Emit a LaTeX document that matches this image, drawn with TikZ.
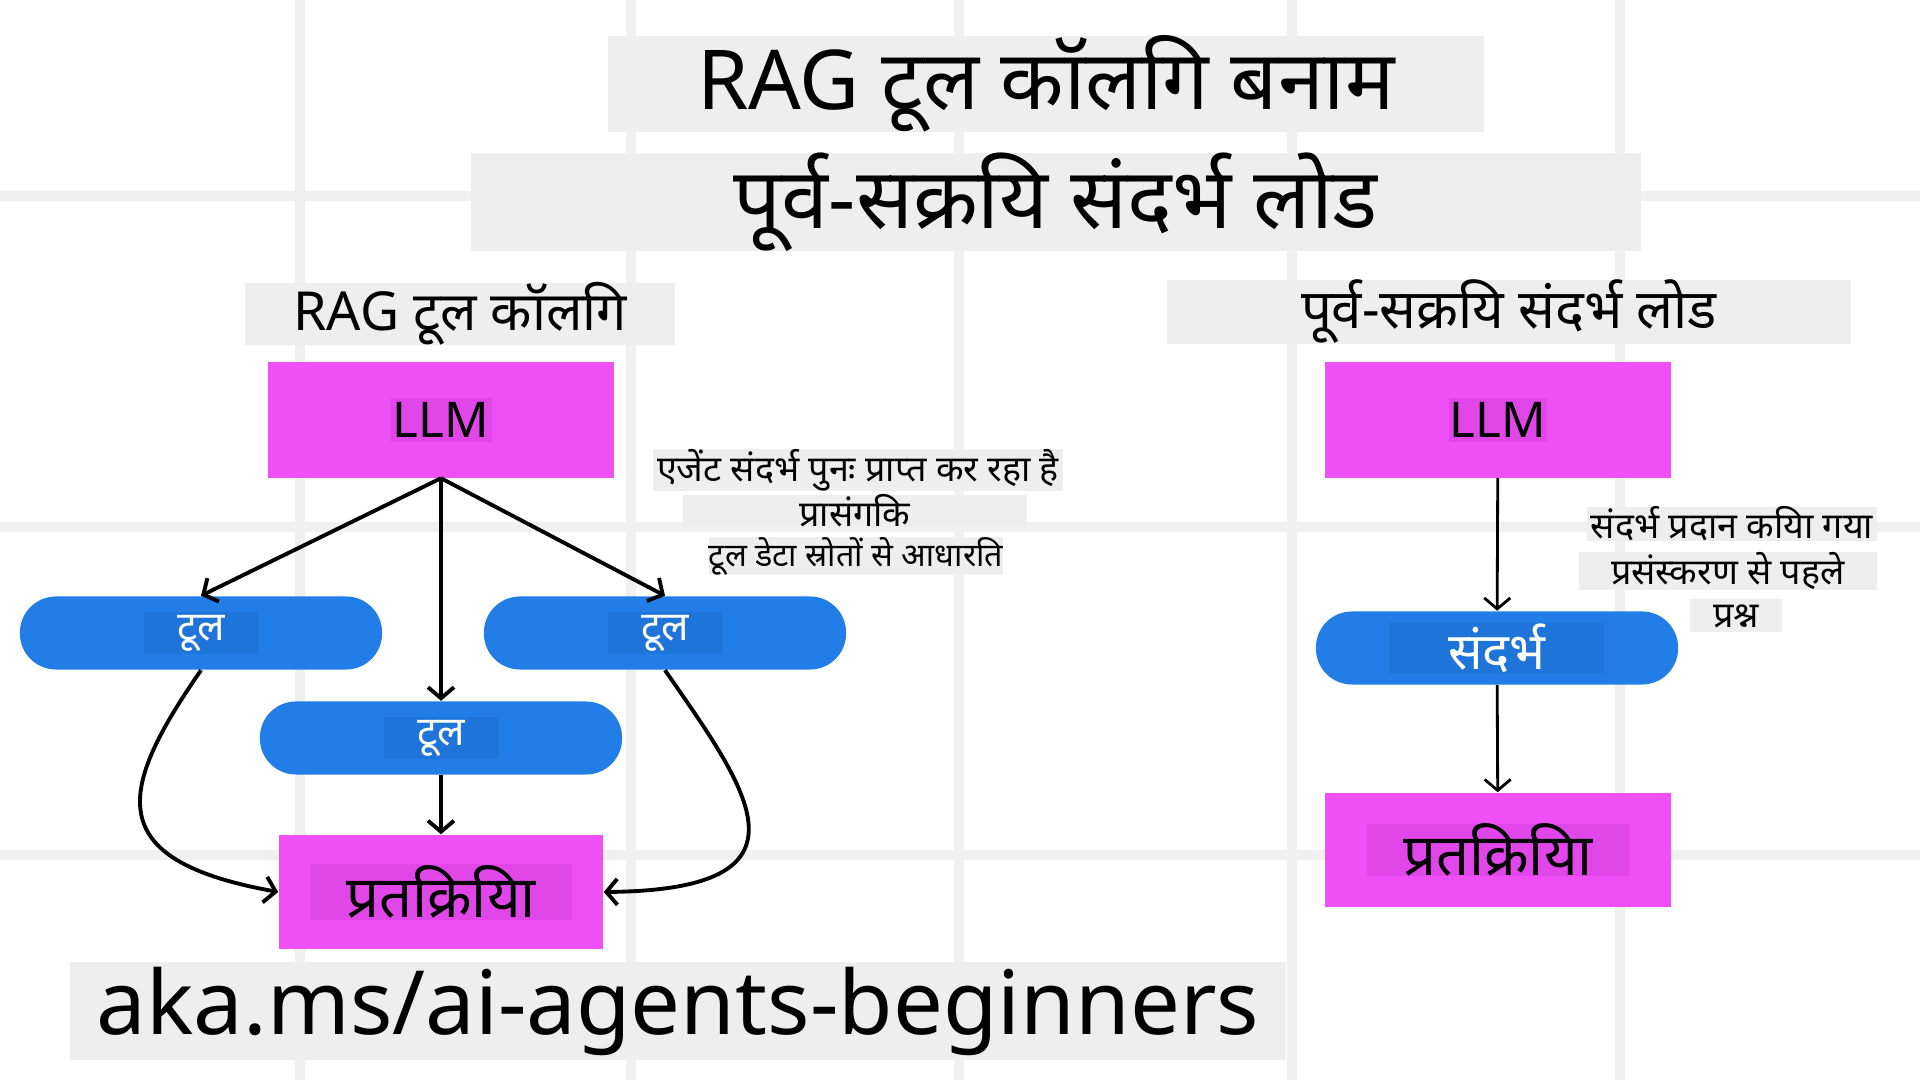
\documentclass[tikz,border=0pt]{standalone}
\usepackage{fontspec}
\setmainfont[Script=Devanagari]{Noto Sans}
\usetikzlibrary{arrows.meta}

\definecolor{gridgray}{HTML}{F0F0F0}
\definecolor{labelgray}{HTML}{EEEEEE}
\definecolor{llmpink}{HTML}{EF50F5}
\definecolor{llmpinkdark}{HTML}{E046E8}
\definecolor{toolblue}{HTML}{237DE6}
\definecolor{toolbluedark}{HTML}{1F74DA}

\tikzset{
  gridline/.style={gridgray, line width=0.1cm},
  label/.style={fill=labelgray, inner sep=0},
  pinkbox/.style={fill=llmpink, inner sep=0, minimum height=1.15cm},
  pinktag/.style={fill=llmpinkdark, inner sep=0},
  pill/.style={fill=toolblue, rounded corners=0.36cm, inner sep=0,
    minimum width=3.62cm, minimum height=0.73cm},
  pilltag/.style={fill=toolbluedark, text=white, inner sep=0},
  flow/.style={-{Straight Barb[length=1.1mm, width=2.6mm]}, line width=1.1pt},
}

\begin{document}
\begin{tikzpicture}[x=0.01cm, y=-0.01cm]
  \fill[white] (0,0) rectangle (1920,1080);
  \useasboundingbox (0,0) rectangle (1920,1080);

  % background grid
  \foreach \x in {300, 631, 959, 1292, 1620}{
    \draw[gridline] (\x,0) -- (\x,1080);
  }
  \foreach \y in {196, 527, 855}{
    \draw[gridline] (0,\y) -- (1920,\y);
  }

  % titles
  \node[label, minimum width=8.75cm, minimum height=0.95cm, font=\fontsize{23.5}{28}\selectfont]
    (title) at (1046,84) {RAG टूल कॉलगि बनाम};
  \node[label, minimum width=11.7cm, minimum height=0.93cm, font=\fontsize{24}{28}\selectfont]
    (subtitle) at (1056,202) {पूर्व-सक्रयि संदर्भ लोड};
  \node[label, minimum width=4.3cm, minimum height=0.6cm, font=\fontsize{15.3}{18}\selectfont]
    (headA) at (460,314) {RAG टूल कॉलगि};
  \node[label, minimum width=6.84cm, minimum height=0.61cm, font=\fontsize{15.5}{18}\selectfont]
    (headB) at (1509,312) {पूर्व-सक्रयि संदर्भ लोड};

  % RAG tool calling
  \node[pinkbox, minimum width=3.45cm] (llmA) at (441,420) {};
  \node[pinktag, minimum width=1.01cm, minimum height=0.44cm, font=\fontsize{14}{17}\selectfont]
    (llmAtxt) at (llmA) {LLM};
  \node[pill] (toolL) at (201,633) {};
  \node[pill] (toolR) at (665,633) {};
  \node[pill] (toolM) at (441,738) {};
  \foreach \t in {toolL, toolR, toolM}{
    \node[pilltag, minimum width=1.13cm, minimum height=0.42cm, font=\fontsize{11.5}{14}\selectfont]
      (\t txt) at (\t) {टूल};
  }
  \node[pinkbox, minimum width=3.24cm, minimum height=1.14cm] (resA) at (441,892) {};
  \node[pinktag, minimum width=2.62cm, minimum height=0.56cm, font=\fontsize{16.5}{19}\selectfont]
    (resAtxt) at (resA) {प्रतक्रियिा};

  \foreach \t in {toolL, toolM, toolR}{
    \draw[flow] (llmA.south) -- (\t.north);
  }
  \draw[flow] (toolM.south) -- (resA.north);
  \draw[flow] (toolL.south) .. controls (118,790) and (100,860) .. (resA.west);
  \draw[flow] (toolR.south) .. controls (748,790) and (824,890) .. (resA.east);

  \node[label, minimum width=4.1cm, minimum height=0.33cm, font=\fontsize{10.2}{12}\selectfont]
    (noteA1) at (858,470) {एजेंट संदर्भ पुनः प्राप्त कर रहा है};
  \node[label, minimum width=3.43cm, minimum height=0.32cm, font=\fontsize{10.2}{12}\selectfont]
    (noteA2) at (855,511) {प्रासंगकि};
  \node[label, minimum width=2.92cm, minimum height=0.33cm, font=\fontsize{9.2}{11}\selectfont]
    (noteA3) at (856,556) {टूल डेटा स्रोतों से आधारति};

  % pre-active context load
  \node[pinkbox, minimum width=3.45cm] (llmB) at (1498,420) {};
  \node[pinktag, minimum width=0.98cm, minimum height=0.44cm, font=\fontsize{14}{17}\selectfont]
    (llmBtxt) at (llmB) {LLM};
  \node[pill] (ctx) at (1497,648) {};
  \node[pilltag, minimum width=2.13cm, minimum height=0.5cm, font=\fontsize{14.5}{17}\selectfont]
    (ctxtxt) at (ctx) {संदर्भ};
  \node[pinkbox, minimum width=3.45cm, minimum height=1.14cm] (resB) at (1498,850) {};
  \node[pinktag, minimum width=2.61cm, minimum height=0.52cm, font=\fontsize{16.5}{19}\selectfont]
    (resBtxt) at (resB) {प्रतक्रियिा};

  \draw[flow, line width=0.8pt] (llmB) -- (ctx);
  \draw[flow, line width=0.8pt] (ctx) -- (resB);

  \node[label, minimum width=2.9cm, minimum height=0.33cm, font=\fontsize{10.2}{12}\selectfont]
    (noteB1) at (1732,524) {संदर्भ प्रदान कयिा गया};
  \node[label, minimum width=2.97cm, minimum height=0.36cm, font=\fontsize{10.2}{12}\selectfont]
    (noteB2) at (1728,571) {प्रसंस्करण से पहले};
  \node[label, minimum width=0.92cm, minimum height=0.33cm, font=\fontsize{10.2}{12}\selectfont]
    (noteB3) at (1736,616) {प्रश्न};

  % footer
  \node[label, minimum width=12.15cm, minimum height=0.98cm, font=\fontsize{25.2}{30}\selectfont]
    (footer) at (678,1011) {aka.ms/ai-agents-beginners};
\end{tikzpicture}
\end{document}
